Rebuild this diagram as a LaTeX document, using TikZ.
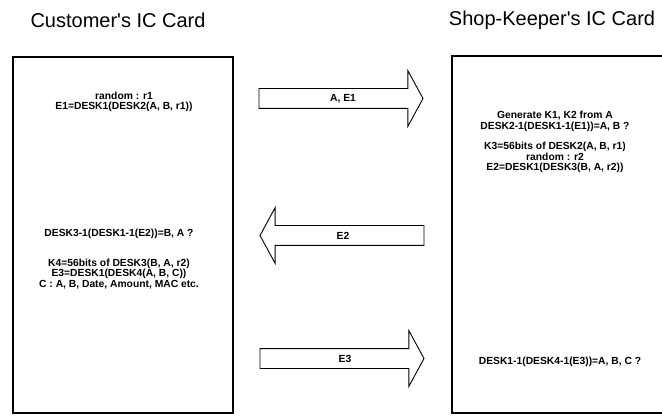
\documentclass[tikz,border=0pt]{standalone}
\usepackage{fontspec}
\setmainfont{Liberation Sans}
\usetikzlibrary{shapes.arrows}

\begin{document}
\begin{tikzpicture}[x=1pt,y=-1pt,
    card/.style={draw,line width=1.1pt,inner sep=0pt,outer sep=0pt,anchor=north west},
    msg/.style={draw,line width=0.9pt,single arrow,single arrow head extend=18pt,
      single arrow tip angle=123,inner sep=0pt,inner ysep=9.5pt,minimum height=164pt,
      outer sep=0pt,anchor=tail},
    title/.style={font=\fontsize{20}{24}\selectfont},
    note/.style={font=\fontsize{10.3}{10.5}\selectfont\bfseries,align=center,inner sep=0pt}]
    \useasboundingbox (0,0) rectangle (662,417);
    % the two cards
    \node [title] (custtitle) at (118,20) {Customer\textquotesingle s IC Card};
    \node [title] (shoptitle) at (552,20) {Shop-Keeper\textquotesingle s IC Card};
    \node [card,minimum width=220pt,minimum height=356pt] (cust) at (13,57) {};
    \node [card,minimum width=214pt,minimum height=357pt] (shop) at (452,56) {};
    % customer side
    \node [note] (c1) at (124,102) {random : r1\\E1=DESK1(DESK2(A, B, r1))};
    \node [note,anchor=north] (c2) at (119,229) {DESK3-1(DESK1-1(E2))=B, A ?\\[19pt]
      K4=56bits of DESK3(B, A, r2)\\E3=DESK1(DESK4(A, B, C))\\C : A, B, Date, Amount, MAC etc.};
    % shop-keeper side
    \node [note,anchor=north] (s1) at (555,111) {Generate K1, K2 from A\\DESK2-1(DESK1-1(E1))=A, B ?\\[10pt]
      K3=56bits of DESK2(A, B, r1)\\random : r2\\E2=DESK1(DESK3(B, A, r2))};
    \node [note] (s2) at (560,362) {DESK1-1(DESK4-1(E3))=A, B, C ?};
    % messages
    \node [msg] (m1) at (259,98.5) {};
    \node [msg,shape border rotate=180] (m2) at (424,235.5) {};
    \node [msg] (m3) at (260,358.5) {};
    \node [note] at (343,98.5) {A, E1};
    \node [note] at (343,235.5) {E2};
    \node [note] at (345,358.5) {E3};
\end{tikzpicture}
\end{document}
